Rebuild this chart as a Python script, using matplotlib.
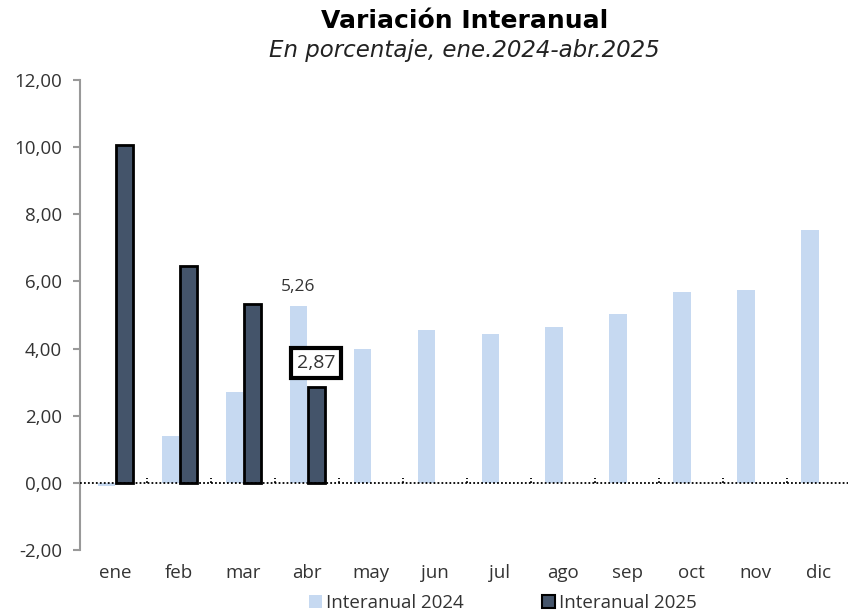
import matplotlib
matplotlib.use("Agg")
import matplotlib.pyplot as plt
from matplotlib.patches import Patch
import numpy as np

months = ["ene", "feb", "mar", "abr", "may", "jun", "jul", "ago", "sep", "oct", "nov", "dic"]
inter_2024 = [-0.10, 1.40, 2.71, 5.26, 3.99, 4.55, 4.43, 4.64, 5.03, 5.68, 5.74, 7.53]
inter_2025 = [10.06, 6.46, 5.33, 2.87]
yticks = [-2, 0, 2, 4, 6, 8, 10, 12]

c24 = "#C6D9F1"
c25 = "#44546A"
font = "Open Sans"
plt.rcParams["font.family"] = [font, "DejaVu Sans"]

fig = plt.figure(figsize=(8.52, 6.12), dpi=100)
ax = fig.add_axes([0.094, 0.1013, 0.901, 0.768])

x = np.arange(len(months))
w = 0.27
ax.bar(x - 0.14, inter_2024, width=w, color=c24, edgecolor="none", zorder=2)
x25 = np.arange(len(inter_2025))
ax.bar(x25 + 0.14, inter_2025, width=w, color=c25, edgecolor="black", linewidth=2, zorder=3)

ax.set_xlim(-0.55, 11.45)
ax.set_ylim(-2, 12)
ax.set_yticks(yticks)
ax.set_yticklabels([f"{v:.2f}".replace(".", ",") for v in yticks], fontsize=13.5, color="#333333")
ax.set_xticks(x)
ax.set_xticklabels(months, fontsize=13.5, color="#333333")
ax.tick_params(axis="x", length=0, pad=10)
ax.tick_params(axis="y", length=5, color="#999999", width=1.5, pad=8)

for s in ["top", "right", "bottom"]:
    ax.spines[s].set_visible(False)
ax.spines["left"].set_color("#999999")
ax.spines["left"].set_linewidth(1.5)

ax.axhline(0, color="black", linestyle=(0, (1, 1.2)), linewidth=1.3, zorder=4)
ax.vlines(np.arange(len(months) - 1) + 0.5, 0, 0.15, colors="black", linestyles=(0, (1, 1.2)), linewidth=1.3, zorder=4)

# annotations
ax.text(3 - 0.14, inter_2024[3] + 0.35, f"{inter_2024[3]:.2f}".replace(".", ","),
        ha="center", va="bottom", fontsize=12.5, color="#333333")
ax.text(3 + 0.14, inter_2025[3] + 0.7, f"{inter_2025[3]:.2f}".replace(".", ","),
        ha="center", va="center", fontsize=14, color="#333333", zorder=6,
        bbox=dict(boxstyle="square,pad=0.3", facecolor="white", edgecolor="black", linewidth=3))

fig.text(0.545, 0.966, "Variación Interanual", ha="center", va="center", fontsize=18,
         fontweight="bold", color="black", family=["DejaVu Sans"])
fig.text(0.545, 0.917, "En porcentaje, ene.2024-abr.2025", ha="center", va="center", fontsize=16.5,
         fontstyle="italic", color="#222222", family=["DejaVu Sans"])

handles = [Patch(facecolor=c24, edgecolor="none", label="Interanual 2024"),
           Patch(facecolor=c25, edgecolor="black", linewidth=1.5, label="Interanual 2025")]
fig.legend(handles=handles, loc="center", bbox_to_anchor=(0.59, 0.015), ncol=2, frameon=False,
           fontsize=13.5, handlelength=0.7, handleheight=0.7, handletextpad=0.2, columnspacing=4.2,
           labelcolor="#333333")

fig.savefig("out.png", dpi=100)
